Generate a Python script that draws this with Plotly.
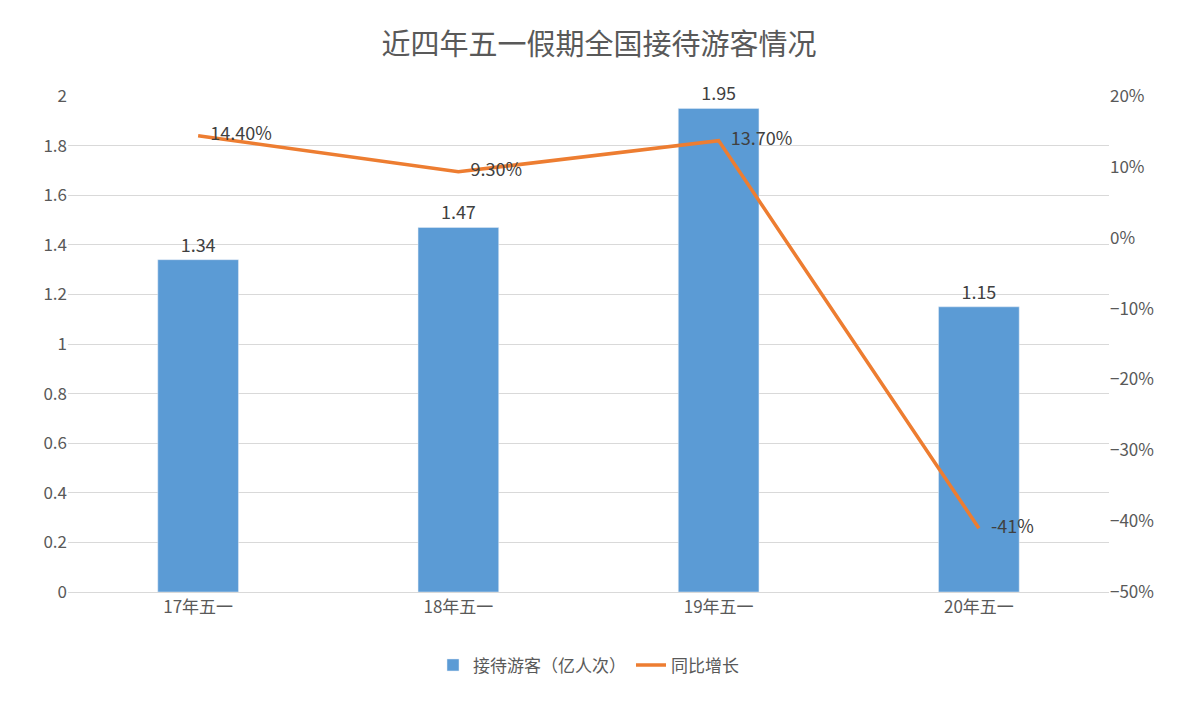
import plotly.graph_objects as go

categories = ["17年五一", "18年五一", "19年五一", "20年五一"]
visitors = [1.34, 1.47, 1.95, 1.15]
growth = [0.144, 0.093, 0.137, -0.41]
growth_labels = ["14.40%", "9.30%", "13.70%", "-41%"]

font = "Noto Sans CJK SC"
grey = "#595959"

fig = go.Figure()
fig.add_trace(go.Bar(
    x=categories, y=visitors, name="接待游客（亿人次）",
    marker_color="#5B9BD5", width=0.31,
    text=[f"{v:.2f}" for v in visitors], textposition="outside",
    textfont=dict(size=18, color="#404040"), cliponaxis=False,
))
fig.add_trace(go.Scatter(
    x=categories, y=growth, name="同比增长", yaxis="y2",
    mode="lines+text", line=dict(color="#ED7D31", width=3.5),
    text=["   " + t for t in growth_labels], textposition="middle right",
    textfont=dict(size=18, color="#404040"), cliponaxis=False,
))

fig.update_layout(
    title=dict(text="近四年五一假期全国接待游客情况", x=0.5, y=0.947, yanchor="middle",
               font=dict(size=29, color=grey, family=font)),
    font=dict(family=font, color=grey, size=17),
    plot_bgcolor="white", paper_bgcolor="white",
    margin=dict(l=60, r=81, t=88, b=109),
    xaxis=dict(showline=True, linecolor="#D9D9D9", ticks="", automargin=False),
    yaxis=dict(range=[0, 2], dtick=0.2, gridcolor="#D9D9D9", zeroline=False,
               tickformat="~g", automargin=False),
    yaxis2=dict(range=[-0.5, 0.2], dtick=0.1, tickformat=".0%", overlaying="y",
                side="right", showgrid=False, zeroline=False, automargin=False),
    legend=dict(orientation="h", x=0.5, xanchor="center", y=-0.148, yanchor="middle",
                font=dict(size=17, color=grey)),
    bargap=0.69,
)

fig.write_html("out.html")
